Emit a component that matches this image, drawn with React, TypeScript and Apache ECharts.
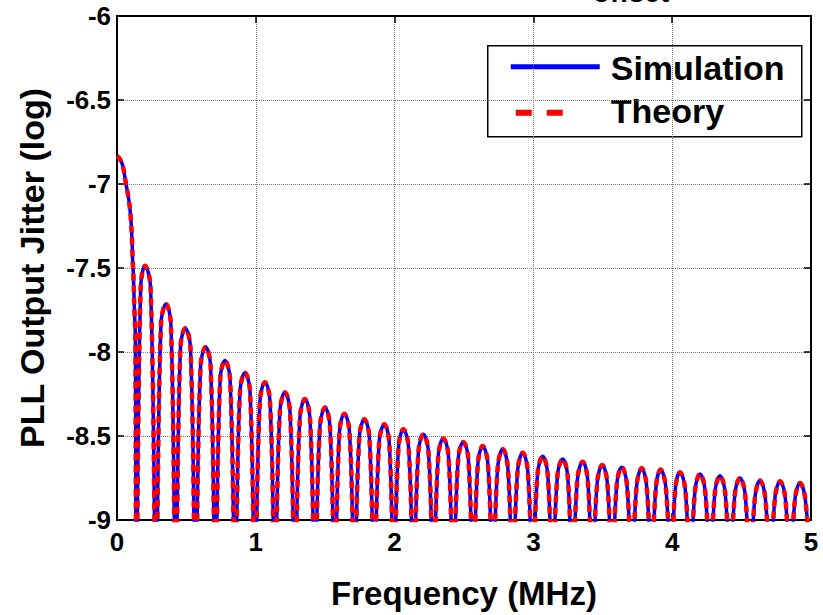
import React, { useEffect, useRef } from "react";
import * as echarts from "echarts";

// Main lobe samples (MHz, log jitter)
const mainFreq = [0, 0.02, 0.041, 0.065, 0.086, 0.099, 0.108, 0.113, 0.118, 0.125, 0.132];
const mainVal = [-6.834, -6.85, -6.89, -7.0, -7.1, -7.2, -7.33, -7.46, -7.54, -7.74, -7.9];

// Nulls of the side lobes (MHz); value drops below the axis there
const nullFreq = [
  0.140, 0.281, 0.423, 0.566, 0.709, 0.851, 0.994, 1.138, 1.282, 1.426,
  1.569, 1.711, 1.853, 1.995, 2.137, 2.280, 2.423, 2.566, 2.708, 2.851,
  2.994, 3.137, 3.281, 3.425, 3.567, 3.709, 3.850, 3.990, 4.130, 4.273,
  4.417, 4.561, 4.706, 4.850, 4.995,
];
const nullVal = -9.3;

// Side-lobe peaks
const peakFreq = [
  0.202, 0.353, 0.492, 0.639, 0.778, 0.922, 1.066, 1.210, 1.354, 1.499,
  1.638, 1.782, 1.926, 2.063, 2.207, 2.351, 2.495, 2.635, 2.779, 2.923,
  3.067, 3.211, 3.355, 3.496, 3.636, 3.780, 3.917, 4.056, 4.200, 4.344,
  4.488, 4.633, 4.777, 4.921,
];
const peakVal = [
  -7.487, -7.714, -7.858, -7.97, -8.05, -8.124, -8.18, -8.24, -8.28, -8.33,
  -8.367, -8.40, -8.43, -8.46, -8.49, -8.515, -8.535, -8.56, -8.578, -8.60,
  -8.62, -8.637, -8.653, -8.673, -8.686, -8.692, -8.70, -8.716, -8.726, -8.737,
  -8.75, -8.765, -8.77, -8.78,
];
// Value at the lobe shoulders (halfway between null and peak)
const shoulderVal = [
  -7.61, -7.83, -7.97, -8.08, -8.16, -8.23, -8.29, -8.35, -8.39, -8.44,
  -8.47, -8.50, -8.53, -8.56, -8.59, -8.61, -8.63, -8.66, -8.68, -8.70,
  -8.72, -8.73, -8.75, -8.77, -8.78, -8.79, -8.80, -8.81, -8.82, -8.83,
  -8.84, -8.86, -8.86, -8.87,
];

const FONT = "'Liberation Sans', Arial, Helvetica, sans-serif";

function buildCurve(): number[][] {
  const pts: number[][] = [];
  mainFreq.forEach((f, i) => pts.push([f, mainVal[i]]));
  for (let i = 0; i < peakFreq.length; i++) {
    const n0 = nullFreq[i];
    const n1 = nullFreq[i + 1];
    const p = peakFreq[i];
    pts.push([n0, nullVal]);
    pts.push([(n0 + p) / 2, shoulderVal[i]]);
    pts.push([p, peakVal[i]]);
    pts.push([(p + n1) / 2, shoulderVal[i]]);
  }
  pts.push([nullFreq[nullFreq.length - 1], nullVal]);
  return pts;
}

export default function App() {
  const ref = useRef<HTMLDivElement>(null);
  useEffect(() => {
    if (!ref.current) return;
    const chart = echarts.init(ref.current, undefined, { renderer: "svg" });
    const curve = buildCurve();
    const axisCommon = {
      axisLine: { show: true, onZero: false, lineStyle: { color: "#000", width: 2 } },
      axisTick: { show: true, inside: true, length: 7, lineStyle: { color: "#000", width: 1.5 } },
    };
    chart.setOption({
      animation: false,
      backgroundColor: "#fff",
      grid: { left: 117, right: 12, top: 16, bottom: 92, containLabel: false },
      xAxis: [
        {
          type: "value",
          min: 0,
          max: 5,
          interval: 1,
          position: "bottom",
          ...axisCommon,
          axisLabel: { color: "#000", fontSize: 26, fontWeight: "bold", fontFamily: FONT, margin: 9 },
          splitLine: { show: true, lineStyle: { type: "dotted", color: "#7a7a7a", width: 1 } },
          name: "Frequency (MHz)",
          nameLocation: "middle",
          nameGap: 57,
          nameTextStyle: { color: "#000", fontSize: 33, fontWeight: "bold", fontFamily: FONT },
        },
        {
          type: "value",
          min: 0,
          max: 5,
          interval: 1,
          position: "top",
          ...axisCommon,
          axisLabel: { show: false },
          splitLine: { show: false },
        },
      ],
      yAxis: [
        {
          type: "value",
          min: -9,
          max: -6,
          interval: 0.5,
          position: "left",
          ...axisCommon,
          axisLabel: { color: "#000", fontSize: 26, fontWeight: "bold", fontFamily: FONT, margin: 6 },
          splitLine: { show: true, lineStyle: { type: "dotted", color: "#7a7a7a", width: 1 } },
          name: "PLL Output Jitter (log)",
          nameLocation: "middle",
          nameGap: 68,
          nameTextStyle: { color: "#000", fontSize: 34, fontWeight: "bold", fontFamily: FONT },
        },
        {
          type: "value",
          min: -9,
          max: -6,
          interval: 0.5,
          position: "right",
          ...axisCommon,
          axisLabel: { show: false },
          splitLine: { show: false },
        },
      ],
      series: [
        {
          name: "Simulation",
          type: "line",
          data: curve,
          showSymbol: false,
          smooth: 0.4,
          clip: true,
          lineStyle: { color: "#0000ff", width: 3.5 },
          z: 3,
        },
        {
          name: "Theory",
          type: "line",
          data: curve,
          showSymbol: false,
          smooth: 0.4,
          clip: true,
          lineStyle: { color: "#ff0000", width: 4.5, type: [7, 5] },
          z: 4,
        },
      ],
      graphic: [
        {
          type: "text",
          left: 593,
          top: -22,
          style: { text: "offset", fill: "#000", font: `bold 28px ${FONT}` },
          z: 10,
        },
        {
          type: "group",
          left: 487,
          top: 45,
          z: 20,
          children: [
            {
              type: "rect",
              shape: { x: 0, y: 0, width: 314, height: 91 },
              style: { fill: "#fff", stroke: "#000", lineWidth: 1.5 },
            },
            {
              type: "line",
              shape: { x1: 23, y1: 21, x2: 112, y2: 21 },
              style: { stroke: "#0000ff", lineWidth: 5 },
            },
            {
              type: "line",
              shape: { x1: 28, y1: 67, x2: 75, y2: 67 },
              style: { stroke: "#ff0000", lineWidth: 6, lineDash: [16, 15] },
            },
            {
              type: "text",
              x: 123,
              y: 22,
              style: { text: "Simulation", fill: "#000", font: `bold 34px ${FONT}`, verticalAlign: "middle" },
            },
            {
              type: "text",
              x: 123,
              y: 65,
              style: { text: "Theory", fill: "#000", font: `bold 34px ${FONT}`, verticalAlign: "middle" },
            },
          ],
        },
      ],
    });
    return () => chart.dispose();
  }, []);
  return <div ref={ref} style={{ width: 823, height: 615, position: "absolute", left: 0, top: 0 }} />;
}
